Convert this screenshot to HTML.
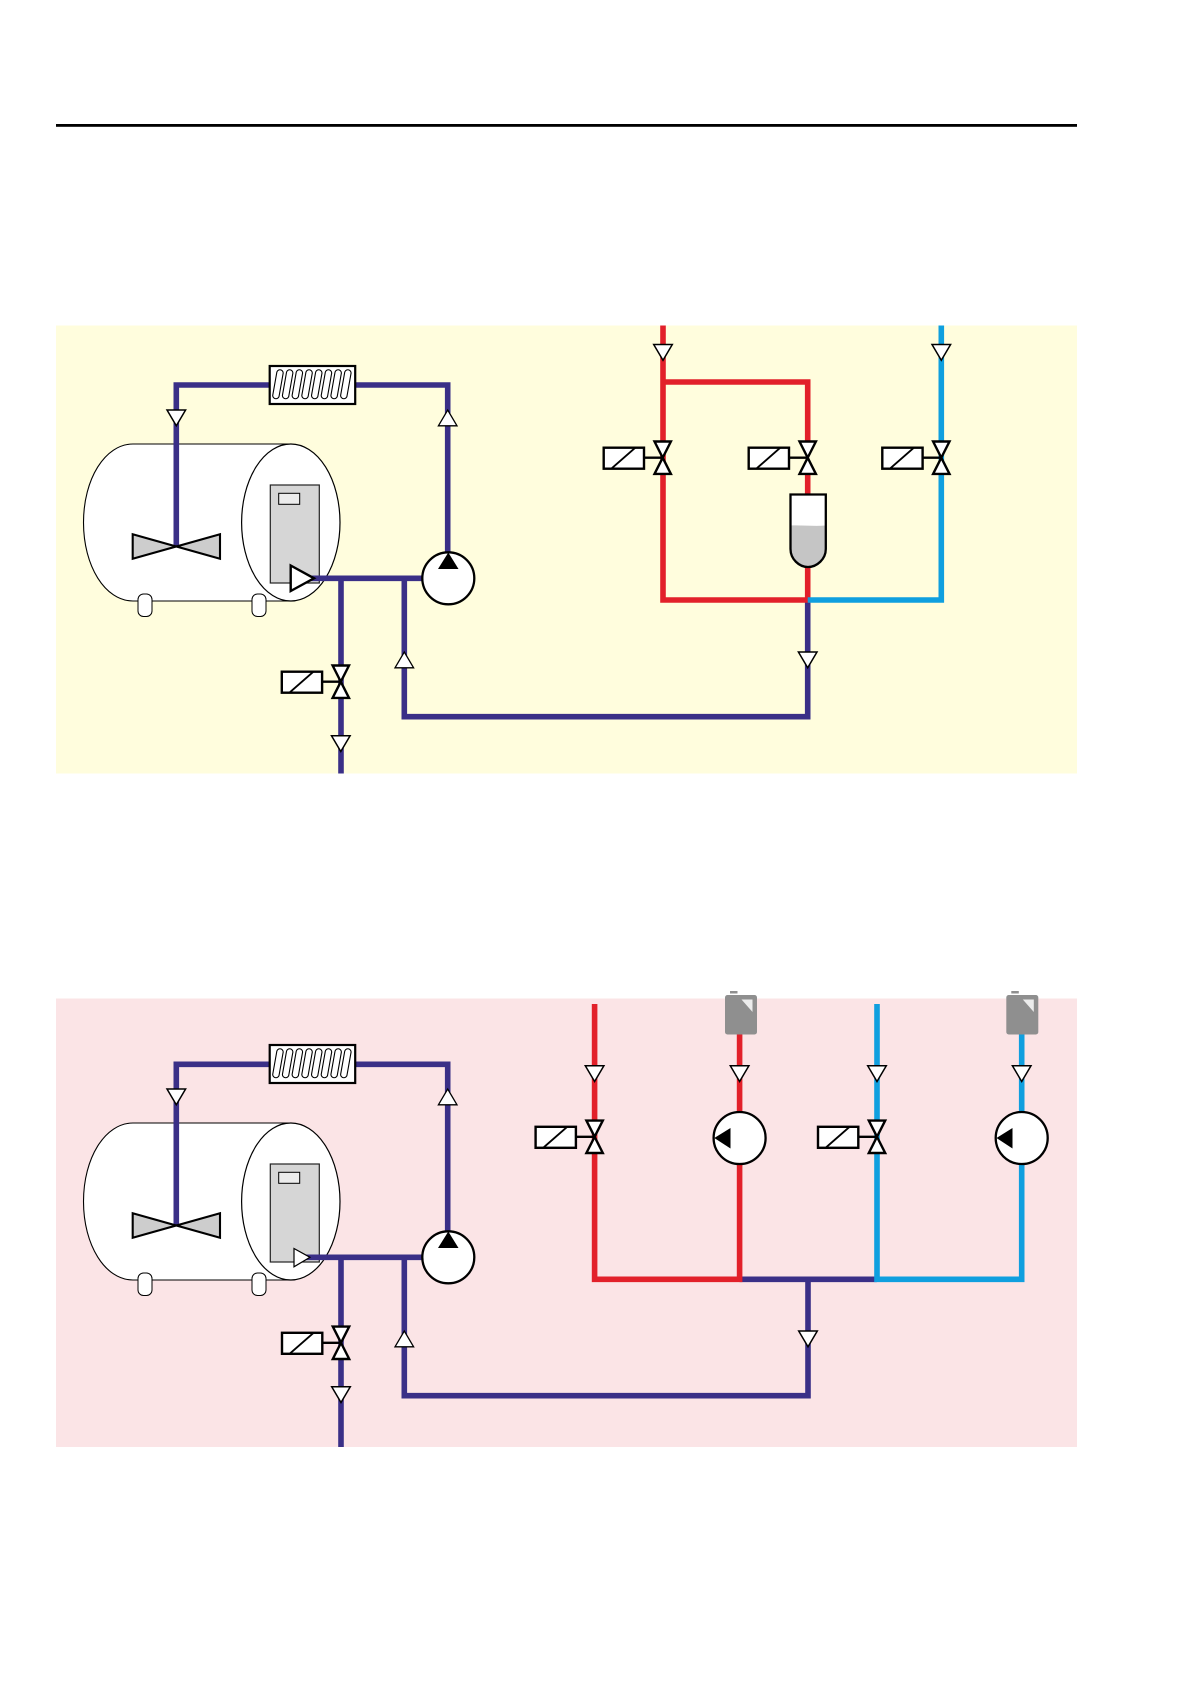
<!DOCTYPE html>
<html>
<head>
<meta charset="utf-8">
<style>
html,body{margin:0;padding:0;background:#fff;}
svg{display:block;}
</style>
</head>
<body>
<svg width="1191" height="1684" viewBox="0 0 1191 1684" xmlns="http://www.w3.org/2000/svg">
<defs>
  <g id="ad"><path d="M-9.3,0H9.3L0,15.8Z" fill="#fff" stroke="#000" stroke-width="1.5" stroke-linejoin="miter"/></g>
  <g id="au"><path d="M-9.3,15.8H9.3L0,0Z" fill="#fff" stroke="#000" stroke-width="1.3" stroke-linejoin="miter"/></g>
  <g id="valve" stroke="#000" stroke-width="2.4" fill="none">
    <path d="M-8.2,-16.2H8.2L0,0L8.2,16.2H-8.2L0,0Z" fill="#fff"/>
    <rect x="-59" y="-10" width="40.3" height="21" fill="#fff"/>
    <path d="M-18.7,0H0"/>
    <path d="M-51.4,11L-27.4,-10" stroke-width="1.9"/>
  </g>
  <g id="pill"><path d="M3,29.5L7,7A3.25,3.25 0 0 1 13.5,7L9.5,29.5A3.25,3.25 0 0 1 3,29.5Z" fill="none" stroke="#000" stroke-width="1.1"/></g>
  <g id="coil">
    <rect x="269.7" y="366" width="85.5" height="38" fill="#fff" stroke="#000" stroke-width="2.2"/>
    <g transform="translate(269.7,366)">
      <use href="#pill" x="0"/><use href="#pill" x="9.7"/><use href="#pill" x="19.4"/><use href="#pill" x="29.1"/>
      <use href="#pill" x="38.8"/><use href="#pill" x="48.5"/><use href="#pill" x="58.2"/><use href="#pill" x="67.9"/>
    </g>
  </g>
  <g id="tank">
    <path d="M133,444H291V601H133C105,601 83.5,566 83.5,522.5C83.5,479 105,444 133,444Z" fill="#fff" stroke="#000" stroke-width="1.1"/>
    <ellipse cx="290.8" cy="522.5" rx="49.2" ry="78.5" fill="#fff" stroke="#000" stroke-width="1.2"/>
    <rect x="138" y="594" width="14" height="22.5" rx="5.5" fill="#fff" stroke="#000" stroke-width="1"/>
    <rect x="252" y="594" width="14" height="22.5" rx="5.5" fill="#fff" stroke="#000" stroke-width="1"/>
    <rect x="270.3" y="485" width="49" height="98" fill="#d6d6d6" stroke="#222" stroke-width="1.2"/>
    <rect x="278.7" y="493.3" width="21" height="11" fill="#ececec" stroke="#000" stroke-width="1"/>
  </g>
  <g id="canister">
    <rect x="-2" y="0" width="32" height="39.5" rx="2.5" fill="#8f8f8f"/>
    <rect x="3" y="-4" width="7.5" height="2.5" fill="#8f8f8f"/>
    <path d="M14.5,4.5H25.5V17Z" fill="#ececec"/>
  </g>
</defs>

<rect x="56" y="124" width="1021" height="2.8" fill="#000"/>

<!-- Panel 1 -->
<rect x="56" y="325.5" width="1021" height="448" fill="#fffddd"/>
<use href="#tank"/>
<g fill="none" stroke="#3a2f87" stroke-width="5.6" stroke-linejoin="miter">
  <path d="M176.3,546.3V385H447.7V560"/>
  <path d="M300,578.3H425"/>
  <path d="M341,578.3V773.5"/>
  <path d="M404.3,578.3V716.7H807.7V600"/>
</g>
<use href="#coil"/>
<path d="M132.7,534.3L176.3,546.5L220,534.3V558.7L176.3,546.5L132.7,558.7Z" fill="#cdcdcd" stroke="#000" stroke-width="2.1"/>
<path d="M290.7,565.5L314,578.3L290.7,591Z" fill="#fff" stroke="#000" stroke-width="2.4"/>
<g fill="none" stroke="#e2202a" stroke-width="5.6">
  <path d="M663,325.5V600H807.7V494"/>
  <path d="M663,382H807.7V441"/>
  <path d="M807.7,475V495"/>
</g>
<g fill="none" stroke="#0f9fdf" stroke-width="5.6">
  <path d="M941.3,325.5V600H807.7"/>
</g>
<path d="M790.5,494.5H825.8V549C825.8,559 817,567 808,567C799,567 790.5,559 790.5,549Z" fill="#fff"/>
<path d="M790.5,525.5C802,525 814,526.5 825.8,525.5V549C825.8,559 817,567 808,567C799,567 790.5,559 790.5,549Z" fill="#c5c5c5"/>
<path d="M790.5,494.5H825.8V549C825.8,559 817,567 808,567C799,567 790.5,559 790.5,549Z" fill="none" stroke="#000" stroke-width="2.3"/>
<circle cx="448.3" cy="578.3" r="26" fill="#fff" stroke="#000" stroke-width="2.3"/>
<path d="M448.3,552.5L458.5,569H438Z" fill="#000"/>
<use href="#ad" x="176.3" y="410"/>
<use href="#au" x="447.7" y="410"/>
<use href="#au" x="404.3" y="652"/>
<use href="#ad" x="340.8" y="735.7"/>
<use href="#ad" x="663" y="344.5"/>
<use href="#ad" x="941.3" y="344.5"/>
<use href="#ad" x="807.7" y="652"/>
<use href="#valve" x="340.8" y="681.7"/>
<use href="#valve" x="662.7" y="457.7"/>
<use href="#valve" x="807.7" y="457.7"/>
<use href="#valve" x="941.3" y="457.7"/>

<!-- Panel 2 -->
<rect x="56" y="998.5" width="1021" height="448.5" fill="#fbe4e6"/>
<use href="#tank" y="679"/>
<g fill="none" stroke="#3a2f87" stroke-width="5.6" stroke-linejoin="miter">
  <path d="M176.3,1225.3V1064.3H447.7V1240"/>
  <path d="M300,1257.3H425"/>
  <path d="M341,1257.3V1447"/>
  <path d="M404.3,1257.3V1395.7H808V1279.3"/>
  <path d="M739.6,1279.3H876.8"/>
</g>
<use href="#coil" y="679"/>
<path d="M132.7,1213.3L176.3,1225.5L220,1213.3V1237.7L176.3,1225.5L132.7,1237.7Z" fill="#cdcdcd" stroke="#000" stroke-width="2.1"/>
<path d="M294,1248.5L310,1257.3L294,1266.8Z" fill="#fff" stroke="#000" stroke-width="1.2"/>
<g fill="none" stroke="#e2202a" stroke-width="5.6">
  <path d="M594.6,1004V1279.3H739.6V1030"/>
</g>
<g fill="none" stroke="#0f9fdf" stroke-width="5.6">
  <path d="M877,1004V1279.3H1021.7V1030"/>
</g>
<use href="#canister" x="727" y="995"/>
<use href="#canister" x="1008.3" y="995"/>
<circle cx="448.3" cy="1257.3" r="26" fill="#fff" stroke="#000" stroke-width="2.3"/>
<path d="M448.3,1231.5L458.5,1248H438Z" fill="#000"/>
<circle cx="739.6" cy="1138" r="26" fill="#fff" stroke="#000" stroke-width="2.3"/>
<path d="M714.3,1138L730.5,1128V1148.5Z" fill="#000"/>
<circle cx="1021.7" cy="1138" r="26" fill="#fff" stroke="#000" stroke-width="2.3"/>
<path d="M996.5,1138L1012.5,1128V1148.5Z" fill="#000"/>
<use href="#ad" x="176.3" y="1089"/>
<use href="#au" x="447.7" y="1089"/>
<use href="#au" x="404.3" y="1331"/>
<use href="#ad" x="341" y="1386.7"/>
<use href="#ad" x="808" y="1331"/>
<use href="#ad" x="594.6" y="1065.7"/>
<use href="#ad" x="739.6" y="1065.7"/>
<use href="#ad" x="877" y="1065.7"/>
<use href="#ad" x="1021.7" y="1065.7"/>
<use href="#valve" x="341" y="1342.8"/>
<use href="#valve" x="594.6" y="1136.8"/>
<use href="#valve" x="877" y="1136.8"/>
</svg>
</body>
</html>
